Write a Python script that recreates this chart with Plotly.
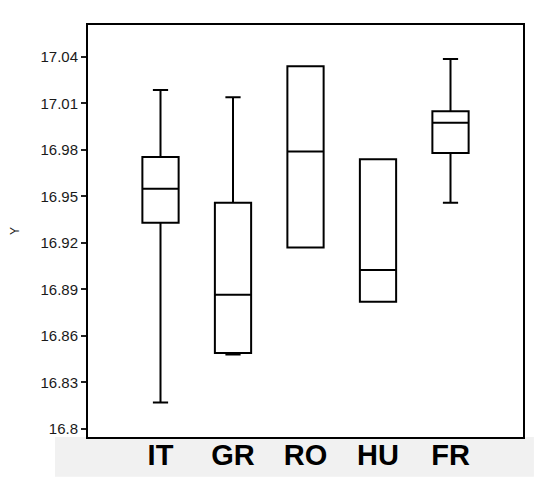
import plotly.graph_objects as go

# Box statistics
PAISES = ["IT", "GR", "RO", "HU", "FR"]
MINIMO = [16.817, 16.848, 16.917, 16.882, 16.946]
Q1 = [16.933, 16.849, 16.917, 16.882, 16.978]
MEDIANA = [16.955, 16.8865, 16.979, 16.9025, 16.9975]
Q3 = [16.9755, 16.946, 17.034, 16.974, 17.005]
MAXIMO = [17.0187, 17.014, 17.034, 16.974, 17.0387]

TICKS_Y = [16.8, 16.83, 16.86, 16.89, 16.92, 16.95, 16.98, 17.01, 17.04]
TICKS_Y_TXT = ["16.8", "16.83", "16.86", "16.89", "16.92", "16.95", "16.98", "17.01", "17.04"]

fig = go.Figure()
for i, pais in enumerate(PAISES):
    fig.add_trace(
        go.Box(
            x=[i],
            q1=[Q1[i]],
            median=[MEDIANA[i]],
            q3=[Q3[i]],
            lowerfence=[MINIMO[i]],
            upperfence=[MAXIMO[i]],
            name=pais,
            width=0.5,
            whiskerwidth=0.42,
            fillcolor="white",
            line=dict(color="black", width=2),
            hoverinfo="y",
        )
    )

# light grey band behind the category labels
fig.add_shape(
    type="rect", xref="paper", yref="paper",
    x0=-0.076, x1=1.025, y0=-0.0965, y1=-0.0, layer="below",
    fillcolor="#f1f1f1", line=dict(width=0),
)

fig.update_layout(
    width=544,
    height=484,
    margin=dict(l=88, r=21, t=25, b=47),
    paper_bgcolor="white",
    plot_bgcolor="white",
    showlegend=False,
    font=dict(family="Liberation Sans, Arial, sans-serif", color="#222"),
    xaxis=dict(
        range=[-1, 5],
        tickvals=list(range(len(PAISES))),
        ticktext=[f"<b>{p}</b>" for p in PAISES],
        tickfont=dict(size=29, color="black", family="Liberation Sans, Arial"),
        showgrid=False,
        zeroline=False,
        ticks="",
        showline=True,
        mirror=True,
        linecolor="black",
        linewidth=2,
        ticklabelstandoff=-9,
        automargin=False,
    ),
    yaxis=dict(
        range=[16.7948, 17.0606],
        tickvals=TICKS_Y,
        ticktext=TICKS_Y_TXT,
        tickfont=dict(size=15, color="#1a1a1a"),
        ticks="outside",
        ticklen=5,
        tickwidth=2,
        tickcolor="#222",
        showgrid=False,
        zeroline=False,
        showline=True,
        mirror=True,
        linecolor="black",
        linewidth=2,
        automargin=False,
        title=dict(text="Y", font=dict(size=12, color="#222"), standoff=18),
    ),
)

fig.write_html(
    "out.html",
    config={"displayModeBar": False},
    post_script="document.body.style.margin='0';",
)
